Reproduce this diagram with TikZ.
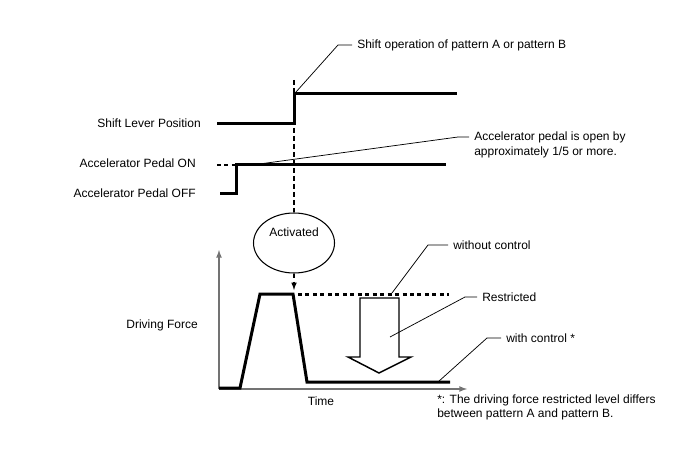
\documentclass[tikz,border=0pt]{standalone}
\usepackage{fontspec}
\setmainfont{Liberation Sans}
\usetikzlibrary{arrows}
\usetikzlibrary{math}
\usetikzlibrary{shapes.geometric}

\tikzset{
  lbl/.style={font=\fontsize{9}{10.5}\selectfont, inner xsep=3.75pt, inner ysep=0pt},
  sig/.style={line width=2.25pt},
  leader/.style={line width=0.55pt},
  axis/.style={line width=1pt, color=black!55, -latex},
  mark line/.style={line width=0.9pt, dash pattern=on 3.5pt off 2.5pt},
}

\begin{document}
\begin{tikzpicture}[x=0.75pt, y=-0.75pt]
\tikzmath{
\xs=294;
\yhi=94;
\ylo=124;
\yon=165;
\yoff=194;
\ytop=294;
\ybot=382;
\yax=389;
}
\useasboundingbox (0,0) rectangle (688,463);

% labels on the left
\node[lbl, anchor=east] (lever) at (206,123) {Shift Lever Position};
\node[lbl, anchor=east] (pedon) at (201,163) {Accelerator Pedal ON};
\node[lbl, anchor=east] (pedoff) at (201,193) {Accelerator Pedal OFF};
\node[lbl, anchor=east] (force) at (203,325) {Driving Force};

% shift lever and pedal
\draw[sig] (217,\ylo) -- (\xs,\ylo) -- (\xs,\yhi) -- (457,\yhi);
\draw[sig] (220,\yoff) -- (236,\yoff) -- (236,\yon) -- (446,\yon);
\draw[line width=0.8pt, dash pattern=on 3pt off 2.5pt] (217,\yon) -- (236,\yon);

% activation
\node[draw, ellipse, line width=0.8pt, minimum width=60.75pt, minimum height=45pt, inner sep=0pt] (act) at (\xs,243) {};
\node[lbl] (acttxt) at (\xs,232) {Activated};
\coordinate (shtop) at (\xs,80);
\coordinate (fpeak) at (\xs,290);
\draw[mark line] (shtop) -- (act.north);
\draw[mark line, -latex] (act.south) -- (fpeak);

% driving force
\coordinate (orig) at (219,\yax);
\draw[axis] (orig) -- (219,250);
\draw[axis] (orig) -- (467,\yax);
\draw[sig] (219,388) -- (240,388) -- (260,\ytop) -- (293,\ytop) -- (307,\ybot) -- (450,\ybot);
\draw[sig, dash pattern=on 3pt off 2.6pt] (298,\ytop) -- (449,\ytop);
\draw[line width=1.1pt, fill=white] (360,298) -- (399,298) -- (399,357) -- (411,357)
  -- (379,373) -- (348,357) -- (360,357) -- cycle;
\node[lbl] (time) at (321,401) {Time};

% annotations
\node[lbl, anchor=west] (shifttxt) at (352,45) {Shift operation of pattern A or pattern B};
\draw[leader] (296,92) -- (338,45) -- (shifttxt.west);

\node[lbl, anchor=west] (acctxt) at (469,137) {Accelerator pedal is open by};
\node[lbl, anchor=west] (acctxtb) at (469,152) {approximately 1/5 or more.};
\draw[leader] (252,\yon) -- (458,137) -- (acctxt.west);

\node[lbl, anchor=west] (wotxt) at (448,245) {without control};
\draw[leader] (392,293) -- (428,245) -- (wotxt.west);

\node[lbl, anchor=west] (restxt) at (477,297) {Restricted};
\draw[leader] (390,337) -- (465,297) -- (restxt.west);

\node[lbl, anchor=west] (wtxt) at (501,338) {with control *};
\draw[leader] (438,\ybot) -- (487,338) -- (wtxt.west);

\node[lbl, anchor=west, font=\fontsize{9}{10.5}\selectfont] (note) at (432,400) {*: The driving force restricted level differs};
\node[lbl, anchor=west] (noteb) at (432,414) {between pattern A and pattern B.};

\end{tikzpicture}
\end{document}
